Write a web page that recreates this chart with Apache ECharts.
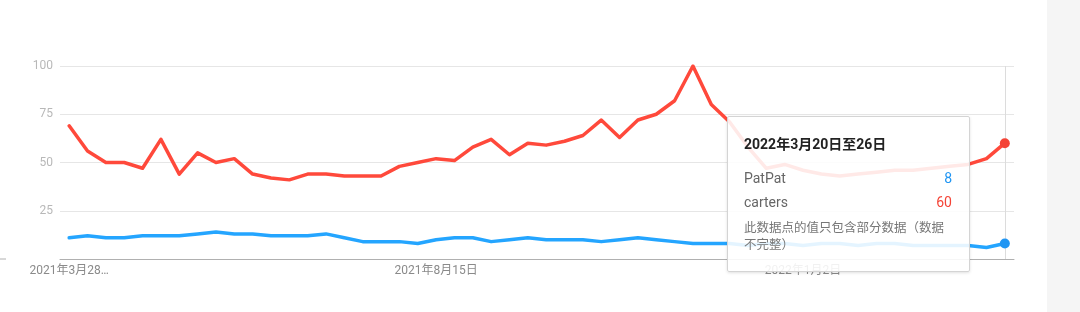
<!DOCTYPE html>
<html>
<head>
<meta charset="utf-8">
<script src="https://cdn.jsdelivr.net/npm/echarts@6/dist/echarts.min.js"></script>
<style>
  html, body { margin: 0; padding: 0; background: #ffffff; }
  #chart { width: 1080px; height: 312px; }
</style>
</head>
<body>
<div id="chart"></div>
<script>
var categories = [
  '2021-03-28','2021-04-04','2021-04-11','2021-04-18','2021-04-25','2021-05-02','2021-05-09','2021-05-16','2021-05-23','2021-05-30',
  '2021-06-06','2021-06-13','2021-06-20','2021-06-27','2021-07-04','2021-07-11','2021-07-18','2021-07-25','2021-08-01','2021-08-08',
  '2021-08-15','2021-08-22','2021-08-29','2021-09-05','2021-09-12','2021-09-19','2021-09-26','2021-10-03','2021-10-10','2021-10-17',
  '2021-10-24','2021-10-31','2021-11-07','2021-11-14','2021-11-21','2021-11-28','2021-12-05','2021-12-12','2021-12-19','2021-12-26',
  '2022-01-02','2022-01-09','2022-01-16','2022-01-23','2022-01-30','2022-02-06','2022-02-13','2022-02-20','2022-02-27','2022-03-06',
  '2022-03-13','2022-03-20'
];
var patpat = [11,12,11,11,12,12,12,13,14,13, 13,12,12,12,13,11,9,9,9,8, 10,11,11,9,10,11,10,10,10,9, 10,11,10,9,8,8,8,7,8,8, 7,8,8,7,8,8,7,7,7,7, 6,8];
var carters = [69,56,50,50,47,62,44,55,50,52, 44,42,41,44,44,43,43,43,48,50, 52,51,58,62,54,60,59,61,64,72, 63,72,75,82,100,80,71,58,47,49, 46,44,43,44,45,46,46,47,48,49, 52,60];
var seriesNames = ['PatPat', 'carters'];
var seriesColors = ['#2196f3', '#f44336'];
var tickDates = ['2021-03-28', '2021-08-15', '2022-01-02'];
var tickLabels = ['2021年3月28…', '2021年8月15日', '2022年1月2日'];
var yTicks = [0, 25, 50, 75, 100];
var noteLines = ['此数据点的值只包含部分数据（数据', '不完整）'];
var hoverIndex = 51;

var FONT = 'Roboto, "Noto Sans CJK SC", sans-serif';

function weekTitle(iso) {
  var p = iso.split('-').map(Number);
  var d = new Date(Date.UTC(p[0], p[1] - 1, p[2]));
  var e = new Date(d.getTime() + 6 * 86400000);
  var s = p[0] + '年' + p[1] + '月' + p[2] + '日至';
  if (e.getUTCMonth() + 1 !== p[1]) s += (e.getUTCMonth() + 1) + '月';
  return s + e.getUTCDate() + '日';
}

function makeSeries(i, data) {
  return {
    name: seriesNames[i], type: 'line', data: data, z: 5,
    showSymbol: false, symbol: 'circle', symbolSize: 10,
    itemStyle: { color: seriesColors[i], borderWidth: 0 },
    lineStyle: { color: seriesColors[i], width: 3.5, join: 'round', cap: 'round' },
    emphasis: {
      scale: false,
      itemStyle: { color: seriesColors[i], borderWidth: 0, borderColor: seriesColors[i] },
      lineStyle: { width: 3.5 }
    }
  };
}

var chart = echarts.init(document.getElementById('chart'), null, { renderer: 'canvas' });
chart.setOption({
  animation: false,
  textStyle: { fontFamily: FONT },
  grid: { left: 60, right: 66, top: 66, bottom: 53 },
  graphic: [
    { type: 'rect', left: 1047, top: 0, shape: { width: 33, height: 312 }, style: { fill: '#f5f5f5' }, silent: true },
    { type: 'line', shape: { x1: 0, y1: 259, x2: 6, y2: 259 }, style: { stroke: '#b0b0b0', lineWidth: 1 }, silent: true }
  ],
  tooltip: {
    trigger: 'axis',
    alwaysShowContent: true,
    transitionDuration: 0,
    showDelay: 0,
    position: [727, 116],
    padding: 0,
    borderWidth: 1,
    borderColor: '#d4d4d4',
    backgroundColor: 'rgba(255,255,255,0.88)',
    extraCssText: 'box-shadow:0 1px 3px rgba(0,0,0,0.12);border-radius:2px;width:243px;height:156px;box-sizing:border-box;',
    axisPointer: { type: 'line', z: 1, lineStyle: { color: '#dcdcdc', width: 1, type: 'solid' } },
    formatter: function (params) {
      var html = '<div style="padding:17px 17px 0 16px;font-family:' + FONT.replace(/"/g, "'") + ';">';
      html += '<div style="font-size:14px;font-weight:bold;color:#222;line-height:20px;white-space:nowrap;">' + weekTitle(params[0].axisValue) + '</div>';
      html += '<div style="height:12px"></div>';
      params.forEach(function (p) {
        html += '<div style="display:flex;justify-content:space-between;font-size:14px;line-height:24px;height:24px;">' +
          '<span style="color:#666">' + p.seriesName + '</span>' +
          '<span style="color:' + p.color + '">' + p.value + '</span></div>';
      });
      html += '<div style="margin-top:6px;font-size:12.5px;line-height:16.5px;color:#777;white-space:nowrap;">' + noteLines.join('<br>') + '</div>';
      html += '</div>';
      return html;
    }
  },
  xAxis: {
    type: 'category',
    data: categories,
    boundaryGap: true,
    axisPointer: { z: 1 },
    axisLine: { lineStyle: { color: '#b0b0b0', width: 1 } },
    axisTick: { show: false },
    splitLine: { show: false },
    axisLabel: {
      color: '#8a8a8a',
      fontSize: 12,
      margin: 6,
      interval: function (idx, value) { return tickDates.indexOf(value) >= 0; },
      formatter: function (value) { var i = tickDates.indexOf(value); return i >= 0 ? tickLabels[i] : ''; }
    }
  },
  yAxis: {
    type: 'value',
    min: yTicks[0],
    max: yTicks[yTicks.length - 1],
    interval: yTicks[1] - yTicks[0],
    axisLine: { show: false },
    axisTick: { show: false },
    splitLine: { lineStyle: { color: '#e6e6e6', width: 1 } },
    axisLabel: {
      color: '#b8b8b8',
      fontSize: 12,
      margin: 7,
      formatter: function (v) { return v === 0 ? '' : String(v); }
    }
  },
  series: [makeSeries(0, patpat), makeSeries(1, carters)]
});
chart.dispatchAction({ type: 'showTip', seriesIndex: 0, dataIndex: hoverIndex });
</script>
</body>
</html>
